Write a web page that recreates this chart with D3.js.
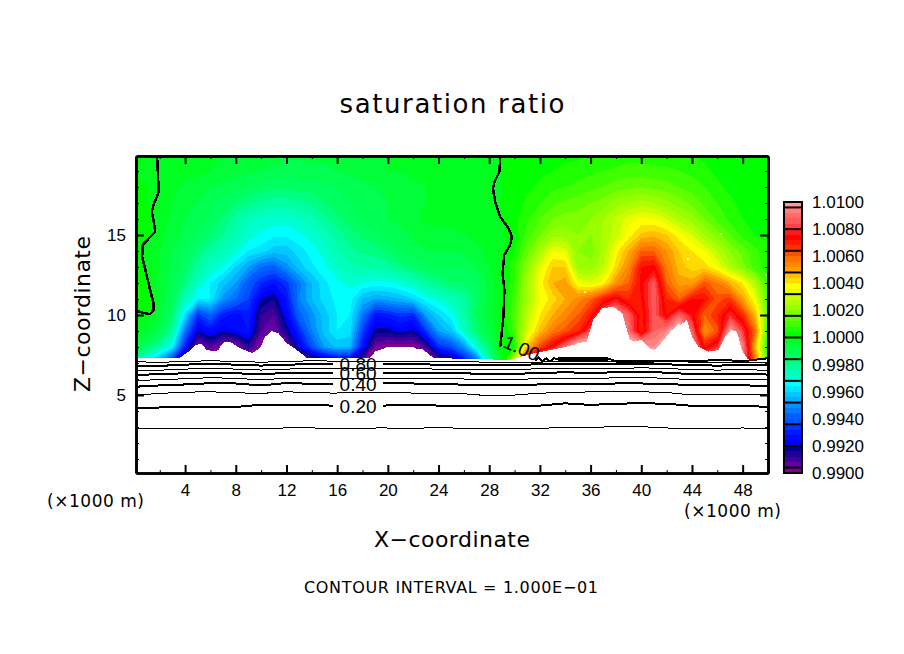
<!DOCTYPE html>
<html>
<head>
<meta charset="utf-8">
<script src="https://d3js.org/d3.v7.min.js"></script>
<style>
html, body { margin: 0; padding: 0; background: #fff; }
svg { display: block; }
text { font-family: "Liberation Sans", sans-serif; fill: #000; }
.axis text { font-size: 17px; }
</style>
</head>
<body>
<svg id="svg" width="904" height="654"></svg>
<script>
// saturation ratio field, (S - 1) * 1e4, one row per km of height, one value per km of x (0..50)
var gridZ = [20,19,18,17,16,15,14,13,12,11,10,9,8,7];
var gridX = d3.range(0, 51);
var satRows = [
[0,0,-1,-2,-3,-3,-4,-4,-5,-5,-6,-6,-7,-7,-7,-7,-6,-6,-5,-5,-4,-4,-3,-3,-2,-2,-1,-1,-1,0,1,1,2,2,3,3,4,5,5,6,6,6,5,5,4,3,2,1,1,0,0],
[0,-1,-1,-2,-2,-3,-4,-5,-6,-7,-8,-9,-10,-10,-9,-9,-8,-7,-6,-5,-4,-4,-3,-2,-1,-1,-1,-1,-1,0,1,2,3,4,5,6,7,8,9,10,10,9,9,8,7,5,3,2,1,0,0],
[1,0,-2,-3,-5,-6,-8,-9,-11,-12,-14,-15,-15,-14,-14,-13,-12,-10,-9,-8,-7,-6,-5,-4,-2,-2,-2,-1,-1,0,1,3,5,7,8,9,11,12,14,15,16,15,14,12,10,8,5,3,2,1,1],
[2,0,-2,-4,-6,-8,-10,-13,-16,-19,-21,-22,-22,-21,-19,-16,-14,-12,-10,-9,-8,-7,-6,-4,-3,-3,-3,-2,-1,0,2,5,8,11,13,14,16,18,22,24,26,24,21,18,15,11,8,5,3,2,1],
[3,1,-2,-5,-8,-10,-13,-17,-22,-26,-29,-30,-30,-28,-25,-21,-17,-14,-12,-10,-8,-7,-5,-3,-3,-3,-4,-3,-1,0,3,7,12,16,18,18,20,24,29,34,37,36,32,26,22,16,11,7,4,3,2],
[3,1,-3,-6,-9,-13,-16,-20,-25,-30,-33,-35,-35,-33,-30,-26,-22,-18,-15,-13,-11,-9,-7,-6,-5,-5,-4,-3,-2,-1,2,10,16,22,23,20,20,25,30,38,45,47,44,38,32,24,18,12,7,4,3],
[3,-1,-4,-8,-12,-17,-22,-26,-30,-36,-38,-42,-42,-38,-34,-30,-25,-21,-19,-18,-15,-12,-10,-8,-8,-8,-7,-5,-3,-1,4,14,24,36,34,20,18,25,38,48,60,60,52,44,40,36,28,20,14,9,5],
[3,0,-4,-9,-14,-22,-28,-32,-40,-48,-56,-58,-50,-42,-37,-33,-28,-25,-24,-24,-22,-18,-15,-13,-12,-11,-12,-8,-4,-1,8,20,34,44,44,22,22,28,42,54,72,74,56,46,42,42,36,26,18,10,6],
[5,2,-5,-10,-18,-28,-36,-42,-48,-60,-68,-72,-66,-54,-44,-37,-33,-31,-32,-33,-33,-30,-27,-22,-18,-16,-16,-14,-6,-1,8,24,38,48,50,36,33,38,52,60,74,86,60,50,50,62,56,48,40,26,10],
[5,3,-4,-12,-26,-36,-36,-50,-56,-64,-80,-84,-72,-52,-44,-38,-35,-34,-44,-48,-46,-44,-40,-34,-30,-26,-22,-14,-6,0,10,24,36,42,48,54,60,70,76,68,72,88,68,60,72,72,62,66,50,36,12],
[2,0,-6,-16,-38,-66,-58,-70,-74,-70,-88,-92,-76,-58,-50,-42,-36,-36,-54,-72,-70,-66,-68,-48,-40,-34,-24,-12,-5,0,12,28,40,48,54,60,70,88,100,86,70,86,72,88,76,60,68,80,68,46,14],
[-3,-4,-10,-22,-54,-80,-74,-80,-76,-72,-92,-96,-84,-68,-52,-42,-36,-38,-64,-82,-82,-78,-82,-66,-48,-42,-28,-16,-7,0,10,32,46,56,62,68,84,105,105,90,68,88,95,110,88,52,62,100,82,58,8],
[-8,-14,-24,-35,-71,-100,-92,-100,-100,-87,-100,-110,-100,-78,-62,-48,-43,-44,-73,-96,-100,-100,-100,-90,-68,-62,-50,-30,-14,0,4,46,64,76,90,110,110,110,110,110,105,96,110,110,95,72,80,110,95,46,6],
[-25,-40,-52,-73,-97,-110,-110,-110,-110,-110,-110,-110,-110,-110,-97,-92,-85,-85,-97,-110,-110,-110,-110,-110,-97,-92,-78,-62,-28,0,40,90,110,110,110,110,110,110,110,110,110,110,110,110,110,100,100,110,90,60,10]
];

// colour of each 0.0004 band, from 0.9900 up to 1.0100
var bandColors = [
'#800090',
'#6000a0','#400098','#200098','#000090',
'#0000ff','#0008ff','#0018ff','#0030ff',
'#0050ff','#0060ff','#0078ff','#0090ff',
'#00b0ff','#00c8ff','#00e4ff','#00ffff',
'#00ffd0','#00ffb8','#00ffa0','#00ff80',
'#00ff60','#00ff50','#00ff38','#00ff20',
'#00ff00','#20ff00','#40ff00','#60ff00',
'#80ff00','#98ff00','#b0ff00','#c8ff00',
'#e8ff00','#ffff00','#ffdc00','#ffc000',
'#ffa000','#ff8800','#ff7000','#ff5000',
'#ff3000','#ff1800','#ff0000','#ff1818',
'#ff4040','#ff5858','#ff6c6c','#ff8080',
'#ff9898'
];
var bandStart = -100, bandStep = 4;
var barLabels = ['1.0100','1.0080','1.0060','1.0040','1.0020','1.0000','0.9980','0.9960','0.9940','0.9920','0.9900'];

// upper edge of the blank (out of range) area
var blankX = [0.125,3.6,4.26,4.79,5.32,5.71,6.55,6.82,7.16,7.55,8.34,9.39,9.79,10.32,10.84,11.37,12.03,12.82,13.6,19.0,19.39,20.44,21.5,21.9,22.68,23.6,26,29.66,31.5,34.1,35.7,36.2,36.9,37.8,38.5,39.1,39.26,40.05,40.7,41.0,41.36,42.28,43.6,44.0,44.5,45.3,46.1,46.6,47.15,47.55,47.94,48.4,50];
var blankZ = [7.33,7.33,7.71,8.13,8.19,7.81,7.71,8.1,8.33,8.33,7.92,7.6,7.71,8.64,9.0,8.85,8.23,7.81,7.33,7.33,7.81,8.02,8.02,7.81,7.88,7.33,7.25,7.2,7.6,8.02,8.33,9.69,10.42,10.52,10.1,8.44,8.31,8.44,7.86,7.84,8.02,8.85,9.69,8.64,8.02,7.71,7.81,8.64,9.06,8.96,7.81,7.24,7.24];

// stray out of range cells
var speckX = [35.57,43.67,46.3,49.9];
var speckZ = [11.42,13.5,15.06,12.5];

// contour levels below the cloud base, z of each level at lineX
var lineX = [0.125,2,4,6,8,10,12,14,15.7,19.6,22,24,26,28,30,32,34,36,38,40,42,44,46,48,50];
var levels = [0.1,0.2,0.3,0.4,0.5,0.6,0.7,0.8,0.9];
var level01 = [2.9,2.88,2.88,2.88,2.92,2.92,2.94,2.94,2.92,2.94,2.92,2.96,2.92,2.88,2.88,2.9,3.0,2.94,3.05,3.02,2.94,2.88,2.9,2.94,2.9];
var level02 = [4.15,4.22,4.22,4.25,4.25,4.4,4.38,4.36,4.34,4.34,4.38,4.34,4.32,4.3,4.32,4.34,4.48,4.38,4.46,4.48,4.46,4.32,4.32,4.32,4.26];
var level03 = [5.0,5.1,5.18,5.2,5.14,5.1,5.2,5.15,5.12,5.18,5.12,5.1,5.08,4.95,5.0,5.12,5.14,5.2,5.2,5.2,5.16,5.0,5.02,5.04,5.0];
var level04 = [5.52,5.6,5.66,5.74,5.72,5.6,5.75,5.7,5.7,5.72,5.72,5.68,5.65,5.6,5.62,5.66,5.7,5.68,5.72,5.72,5.7,5.6,5.6,5.6,5.58];
var level05 = [5.92,5.95,6.02,6.08,6.04,5.95,6.05,6.06,6.05,6.06,6.06,6.04,6.0,5.96,5.98,6.02,6.05,6.02,6.08,6.1,6.04,5.96,5.96,5.96,5.94];
var level06 = [6.26,6.3,6.36,6.4,6.36,6.3,6.38,6.4,6.4,6.38,6.4,6.38,6.36,6.3,6.32,6.38,6.42,6.38,6.42,6.44,6.4,6.3,6.3,6.3,6.28];
var level07 = [6.55,6.55,6.62,6.66,6.62,6.56,6.62,6.66,6.66,6.64,6.64,6.62,6.62,6.58,6.6,6.64,6.68,6.66,6.66,6.7,6.66,6.58,6.56,6.58,6.55];
var level08 = [6.82,6.82,6.9,6.94,6.9,6.84,6.9,6.92,6.92,6.92,6.92,6.9,6.88,6.86,6.88,6.92,6.96,6.94,6.94,6.96,6.92,6.86,6.84,6.86,6.85];
var level09 = [7.08,7.04,7.1,7.14,7.1,7.05,7.1,7.14,7.12,7.12,7.12,7.1,7.08,7.05,7.02,7.06,7.1,7.08,7.08,7.1,7.08,7.06,7.05,7.06,7.05];
var levelRows = [level01,level02,level03,level04,level05,level06,level07,level08,level09];

// the 1.0 contour
var one1X = [1.79,1.89,1.89,1.5,1.37,1.55,1.63,1.24,0.66,0.61,0.92,1.24,1.5,1.5,1.24,0.71,0.19];
var one1Z = [19.88,18.25,17.63,16.88,16.44,15.75,15.19,14.88,14.38,13.63,12.63,11.56,10.75,10.31,10.06,10.13,10.25];
var one2X = [28.86,28.81,28.47,28.29,28.47,28.86,29.52,29.79,29.65,29.18,29.05,29.2,29.12,28.86];
var one2Z = [19.86,18.96,18.44,17.92,17.08,16.14,15.42,14.89,14.38,13.75,12.6,11.56,9.9,8.0];
var one3X = [31.6,31.9,32.2,32.5,32.8,33.1,33.4,37.5,38,41,41.2,45,46,47,48.3,50];
var one3Z = [7.15,7.35,7.1,7.3,7.1,7.3,7.25,7.25,7.12,7.12,7.14,7.14,7.2,7.16,7.14,7.3];
var oneThickX = [33.4,37.4], oneThickZ = [7.24,7.24];
var oneThick2X = [38,41], oneThick2Z = [7.12,7.12];

var xMajor = [4,8,12,16,20,24,28,32,36,40,44,48];
var xMinor = [2,6,10,14,18,22,26,30,34,38,42,46];
var zMajor = [5,10,15];
var zMinor = [1,2,3,4,6,7,8,9,11,12,13,14,16,17,18,19];

var svg = d3.select('#svg');
var plotLeft = 136, plotRight = 768, plotTop = 156, plotBottom = 473;

var xScale = d3.scaleLinear().domain([0.125, 50]).range([plotLeft, plotRight]);
var zScale = d3.scaleLinear().domain([0.125, 19.94]).range([plotBottom, plotTop]);

svg.append('clipPath').attr('id', 'plot').append('rect')
    .attr('x', plotLeft).attr('y', plotTop).attr('width', plotRight - plotLeft).attr('height', plotBottom - plotTop);

var plot = svg.append('g').attr('clip-path', 'url(#plot)');

// filled bands, the last threshold (above 1.0100) stays white
var thresholds = d3.range(0, bandColors.length + 1).map(function (i) { return bandStart + i * bandStep; });
var contours = d3.contours().size([gridX.length, gridZ.length]).thresholds(thresholds)(d3.merge(satRows));
var gridPath = d3.geoPath(d3.geoTransform({
    point: function (c, r) {
        this.stream.point(xScale(c - 0.5), zScale(gridZ[0] - (r - 0.5)));
    }
}));
plot.selectAll('path.band')
    .data(contours)
    .enter().append('path')
    .attr('class', 'band')
    .attr('d', gridPath)
    .attr('fill', function (d, i) { return i < bandColors.length ? bandColors[i] : '#fff'; })
    .attr('shape-rendering', 'crispEdges');

// blank part
var blankArea = d3.area()
    .x(function (d) { return xScale(d[0]); })
    .y0(plotBottom)
    .y1(function (d) { return zScale(d[1]); });
plot.append('path')
    .attr('d', blankArea(d3.zip(blankX, blankZ)))
    .attr('fill', '#fff')
    .attr('shape-rendering', 'crispEdges');

plot.selectAll('circle')
    .data(d3.zip(speckX, speckZ))
    .enter().append('circle')
    .attr('cx', function (d) { return xScale(d[0]); })
    .attr('cy', function (d) { return zScale(d[1]); })
    .attr('r', 1)
    .attr('fill', '#fff');

// contour lines
var zLine = d3.line()
    .x(function (d) { return xScale(d[0]); })
    .y(function (d) { return zScale(d[1]); });

function drawLine(xs, zs, w) {
    plot.append('path')
        .attr('d', zLine(d3.zip(xs, zs)))
        .attr('fill', 'none')
        .attr('stroke', '#000')
        .attr('stroke-width', w)
        .attr('shape-rendering', 'crispEdges');
}

levelRows.forEach(function (row, i) {
    var labelled = i % 2 === 1;
    if (labelled) {
        drawLine(lineX.slice(0, 9), row.slice(0, 9), 2);
        drawLine(lineX.slice(9), row.slice(9), 2);
    } else {
        drawLine(lineX, row, 1);
    }
});
drawLine(one1X, one1Z, 2.5);
drawLine(one2X, one2Z, 2.5);
drawLine(one3X, one3Z, 2);
drawLine(oneThickX, oneThickZ, 4);
drawLine(oneThick2X, oneThick2Z, 3);

// contour labels
[1, 3, 5, 7].forEach(function (i) {
    plot.append('text')
        .attr('x', xScale(17.65))
        .attr('y', zScale(levelRows[i][8]) + 7)
        .attr('text-anchor', 'middle')
        .style('font-size', '19px')
        .text(levels[i].toFixed(2));
});
plot.append('text')
    .attr('transform', 'translate(' + xScale(30.35) + ',' + zScale(7.55) + ') rotate(24)')
    .attr('text-anchor', 'middle')
    .style('font-size', '19px')
    .text('1.00');

// axes
function styleAxis(g, major) {
    g.select('.domain').attr('stroke', '#000').attr('stroke-width', 2.6).attr('fill', 'none');
    g.selectAll('.tick line').attr('stroke', '#000').attr('stroke-width', major ? 2 : 1);
}
function addAxis(axis, x, y, major) {
    var g = svg.append('g')
        .attr('class', 'axis')
        .attr('transform', 'translate(' + x + ',' + y + ')')
        .call(axis);
    styleAxis(g, major);
    return g;
}
var noText = function () { return ''; };

addAxis(d3.axisBottom(xScale).tickValues(xMinor).tickSizeInner(-3).tickSizeOuter(0).tickFormat(noText), 0, plotBottom, false);
addAxis(d3.axisTop(xScale).tickValues(xMinor).tickSizeInner(-3).tickSizeOuter(0).tickFormat(noText), 0, plotTop, false);
addAxis(d3.axisLeft(zScale).tickValues(zMinor).tickSizeInner(-3).tickSizeOuter(0).tickFormat(noText), plotLeft, 0, false);
addAxis(d3.axisRight(zScale).tickValues(zMinor).tickSizeInner(-3).tickSizeOuter(0).tickFormat(noText), plotRight, 0, false);

addAxis(d3.axisBottom(xScale).tickValues(xMajor).tickSizeInner(-8).tickSizeOuter(0).tickPadding(11), 0, plotBottom, true);
addAxis(d3.axisTop(xScale).tickValues(xMajor).tickSizeInner(-8).tickSizeOuter(0).tickFormat(noText), 0, plotTop, true);
addAxis(d3.axisLeft(zScale).tickValues(zMajor).tickSizeInner(-8).tickSizeOuter(0).tickPadding(10), plotLeft, 0, true);
addAxis(d3.axisRight(zScale).tickValues(zMajor).tickSizeInner(-8).tickSizeOuter(0).tickFormat(noText), plotRight, 0, true);

// colour bar
var barLeft = 784, barRight = 802, barTop = 202, barBottom = 473;
var barScale = d3.scaleLinear().domain([0.99, 1.01]).range([barBottom, barTop]);
var bandSize = 0.02 / bandColors.length;
var bar = svg.append('g');
bar.selectAll('rect')
    .data(bandColors)
    .enter().append('rect')
    .attr('x', barLeft)
    .attr('width', barRight - barLeft)
    .attr('y', function (d, i) { return barScale(0.99 + (i + 1) * bandSize); })
    .attr('height', function (d, i) { return barScale(0.99 + i * bandSize) - barScale(0.99 + (i + 1) * bandSize); })
    .attr('fill', function (d) { return d; })
    .attr('shape-rendering', 'crispEdges');
// a black rule every 4 bands
bar.selectAll('line')
    .data(d3.range(1, bandColors.length, 4))
    .enter().append('line')
    .attr('x1', barLeft).attr('x2', barRight)
    .attr('y1', function (d) { return barScale(0.99 + d * bandSize); })
    .attr('y2', function (d) { return barScale(0.99 + d * bandSize); })
    .attr('stroke', '#000').attr('stroke-width', 2);
bar.append('rect')
    .attr('x', barLeft).attr('y', barTop)
    .attr('width', barRight - barLeft).attr('height', barBottom - barTop)
    .attr('fill', 'none').attr('stroke', '#000').attr('stroke-width', 2);
var barAxis = svg.append('g')
    .attr('class', 'axis')
    .attr('transform', 'translate(' + barRight + ',0)')
    .call(d3.axisRight(barScale)
        .tickValues(barLabels.map(Number))
        .tickSize(0)
        .tickPadding(10)
        .tickFormat(d3.format('.4f')));
barAxis.select('.domain').remove();

// titles
function addText(s, x, y, size, len, rot) {
    var t = svg.append('text')
        .attr('text-anchor', 'middle')
        .style('font-size', size + 'px')
        .style('font-family', '"DejaVu Sans", sans-serif')
        .text(s);
    if (len) t.attr('textLength', len).attr('lengthAdjust', 'spacing');
    if (rot) t.attr('transform', 'translate(' + x + ',' + y + ') rotate(' + rot + ')');
    else t.attr('x', x).attr('y', y);
}
addText('saturation ratio', 452, 113, 26, 225);
addText('Z\u2212coordinate', 90, 314, 22, 156, -90);
addText('X\u2212coordinate', 452, 547, 22, 156);
addText('(\u00d71000 m)', 95.5, 507, 17, 97);
addText('(\u00d71000 m)', 732.5, 517, 17, 97);
addText('CONTOUR INTERVAL = 1.000E\u221201', 451, 593, 16, 294);
</script>
</body>
</html>
